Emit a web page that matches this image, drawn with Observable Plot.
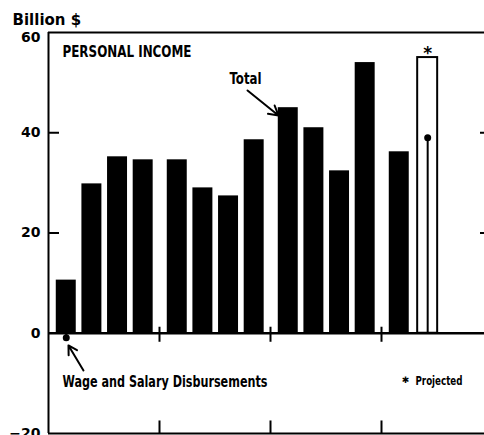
<!DOCTYPE html>
<html><head><meta charset="utf-8">
<script src="https://cdn.jsdelivr.net/npm/d3@7"></script>
<script src="https://cdn.jsdelivr.net/npm/@observablehq/plot@0.6"></script>
<style>body{margin:0;background:#fff}</style>
</head><body><div id="chart"></div>
<script>
// Quarterly changes, billion $ (annual rate)
const years      = [0, 0, 0, 0, 1, 1, 1, 1, 2, 2, 2, 2, 3, 3];
const quarters   = [0, 1, 2, 3, 0, 1, 2, 3, 0, 1, 2, 3, 0, 1];
const totalIncome = [10.6, 29.8, 35.2, 34.6, 34.6, 29.0, 27.4, 38.6, 45.0, 41.0, 32.4, 54.0, 36.2, 55.0];
const wageSalary  = [-0.9, null, null, null, null, null, null, null, null, null, null, null, null, 39.0];
const projected   = [false, false, false, false, false, false, false, false, false, false, false, false, false, true];
const yTicks = [-20, 0, 20, 40];
const yTopTick = [60];
const yearBoundaries = [1, 2, 3];

const CONDENSED = "DejaVu Sans Condensed, DejaVu Sans";
const texts = [
  {label: "Billion $", x: -0.324, y: 62.4, font: "DejaVu Sans", size: 15, len: null},
  {label: "PERSONAL INCOME", x: 0.126, y: 56.2, font: CONDENSED, size: 16, len: 129},
  {label: "Total", x: 1.631, y: 50.7, font: CONDENSED, size: 16, len: 32},
  {label: "Wage and Salary Disbursements", x: 0.126, y: -9.7, font: CONDENSED, size: 16, len: 205},
  {label: "Projected", x: 3.306, y: -9.43, font: CONDENSED, size: 12.5, len: 47}
];
const arrows = [
  {x1: 1.793, y1: 48.43, x2: 2.072, y2: 43.44},
  {x1: 0.315, y1: -7.43, x2: 0.180, y2: -2.44}
];
const legendStar = [{x: 3.216, y: -9.43}];

const YEAR_OFFSET = 0.07, Q_STEP = 0.231, BAR_W = 0.18;
const data = totalIncome.map((v, i) => ({year: years[i], quarter: quarters[i], total: v, wage: wageSalary[i], projected: projected[i]}));
const xLeft = d => d.year + YEAR_OFFSET + d.quarter * Q_STEP + (d.projected ? 0.025 : 0);
const xRight = d => xLeft(d) + BAR_W;
const xMid = d => xLeft(d) + BAR_W / 2;
const actual = data.filter(d => !d.projected);
const proj = data.filter(d => d.projected);
const wages = data.filter(d => d.wage != null);

const chart = Plot.plot({
  width: 484, height: 435,
  marginLeft: 48, marginRight: 0, marginTop: 32, marginBottom: 2,
  x: {domain: [0, 436 / 111], axis: null},
  y: {domain: [-20, 60]},
  style: {background: "white", color: "black"},
  marks: [
    Plot.rectY(actual, {x1: xLeft, x2: xRight, y1: 0, y2: "total", fill: "black"}),
    Plot.rectY(proj, {x1: xLeft, x2: xRight, y1: 0, y2: "total", fill: "white", stroke: "black", strokeWidth: 2}),
    Plot.ruleX(wages, {x: xMid, y1: 0, y2: "wage", strokeWidth: 2}),
    Plot.dot(wages, {x: xMid, y: "wage", r: 3.5, fill: "black"}),
    Plot.text(proj, {x: xMid, y: "total", text: () => "*", dy: -4, fontSize: 17, fontWeight: "bold", fontFamily: "DejaVu Sans"}),
    Plot.ruleY([60, -20], {strokeWidth: 2}),
    Plot.ruleY([0], {strokeWidth: 2.5}),
    Plot.ruleX([0], {strokeWidth: 2}),
    Plot.tickY([20, 40], {y: d => d, insetRight: 425, strokeWidth: 2}),
    Plot.tickY([20, 40], {y: d => d, insetLeft: 432, strokeWidth: 2}),
    Plot.ruleX(yearBoundaries, {x: d => d, y1: -1.8, y2: 1.2, strokeWidth: 2}),
    Plot.ruleX(yearBoundaries, {x: d => d, y1: -20, y2: -17.5, strokeWidth: 2}),
    Plot.axisY(yTicks, {tickSize: 0, tickPadding: 8, fontSize: 14, fontWeight: "bold", fontFamily: "DejaVu Sans", label: null}),
    Plot.axisY(yTopTick, {tickSize: 0, tickPadding: 8, dy: 5, fontSize: 14, fontWeight: "bold", fontFamily: "DejaVu Sans", label: null}),
    Plot.arrow(arrows, {x1: "x1", y1: "y1", x2: "x2", y2: "y2", strokeWidth: 2, headLength: 8}),
    ...texts.map(t => Plot.text([t], {x: "x", y: "y", text: "label", textAnchor: "start", fontSize: t.size, fontWeight: "bold", fontFamily: t.font})),
    Plot.text(legendStar, {x: "x", y: "y", text: () => "✱", fontSize: 9, fontWeight: "bold", fontFamily: "DejaVu Sans"})
  ]
});
// squeeze condensed annotation texts to the reference's widths
d3.select(chart).selectAll("text").each(function() {
  const t = texts.find(t => t.len && t.label === this.textContent);
  if (t) { this.setAttribute("textLength", t.len); this.setAttribute("lengthAdjust", "spacingAndGlyphs"); }
});
document.getElementById("chart").appendChild(chart);
</script>
</body></html>
